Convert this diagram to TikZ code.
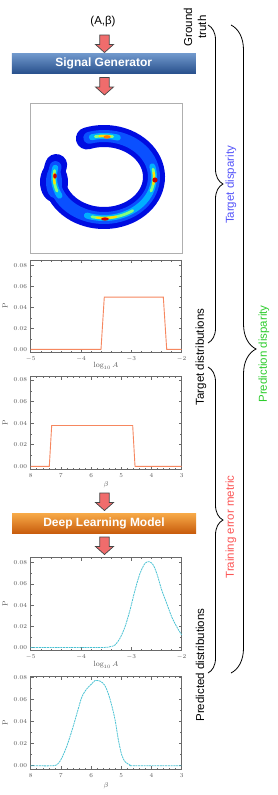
\documentclass[tikz,border=0pt]{standalone}
\usepackage{fontspec}
\newfontfamily\lsans{Liberation Sans}
\usetikzlibrary{decorations.pathreplacing}

\definecolor{arrowfill}{RGB}{240,108,108}
\definecolor{arrowline}{RGB}{70,70,70}
\definecolor{sgtop}{RGB}{112,152,204}
\definecolor{sgbot}{RGB}{40,80,140}
\definecolor{dltop}{RGB}{247,170,72}
\definecolor{dlbot}{RGB}{200,92,12}
\definecolor{tdblue}{RGB}{85,85,250}
\definecolor{pdgreen}{RGB}{45,205,45}
\definecolor{tered}{RGB}{252,85,85}
\definecolor{orangeline}{RGB}{246,135,95}
\definecolor{cyanline}{RGB}{75,195,212}
\definecolor{framegray}{RGB}{105,105,105}
\definecolor{ticklab}{RGB}{85,85,85}
\definecolor{imgframe}{RGB}{175,175,175}
\definecolor{jetA}{RGB}{0,12,225}
\definecolor{jetB}{RGB}{10,80,255}
\definecolor{jetC}{RGB}{0,175,255}
\definecolor{jetD}{RGB}{130,255,125}
\definecolor{jetE}{RGB}{255,225,0}
\definecolor{jetF}{RGB}{255,120,0}
\definecolor{jetG}{RGB}{205,0,0}

\tikzset{
  barrowstyle/.style={draw=arrowline, fill=arrowfill, line width=0.7pt, line join=miter},
  pics/barrow/.style={code={\draw[barrowstyle] (-4.7,0) -- (4.7,0) -- (4.7,9.5) -- (9,9.5) -- (0,17.5) -- (-9,9.5) -- (-4.7,9.5) -- cycle;}},
  barnode/.style={minimum width=184pt, minimum height=20pt, inner sep=0pt, text=white, font=\lsans\bfseries\fontsize{12}{14}\selectfont},
  sidelabel/.style={rotate=90, font=\lsans\fontsize{11.5}{14}\selectfont, align=center, inner sep=0pt},
  bracestyle/.style={decorate, line width=0.8pt},
  frame/.style={draw=framegray, line width=0.6pt},
  tickmark/.style={draw=framegray, line width=0.5pt},
  ticklabel/.style={font=\fontsize{6}{7}\selectfont, text=ticklab, inner sep=1pt},
  axlabel/.style={font=\fontsize{7.5}{9}\selectfont, text=ticklab},
  truthline/.style={draw=orangeline, line width=0.9pt},
  predline/.style={draw=cyanline, line width=0.8pt, dash pattern=on 2pt off 0.7pt},
}

\newcommand\plotaxes[5]{%
  \draw[frame] (0,#2) rectangle (#1,#3);
  \foreach \v/\l in {0/0.00,0.02/0.02,0.04/0.04,0.06/0.06,0.08/0.08} {
    \draw[tickmark] (0,\v) -- ++(3pt,0);
    \draw[tickmark] (#1,\v) -- ++(-3pt,0);
    \node[ticklabel, anchor=east] at ([xshift=-2.5pt]0,\v) {$\l$};
  }
  \foreach \v in {0.01,0.03,0.05,0.07} {
    \draw[tickmark] (0,\v) -- ++(1.6pt,0);
    \draw[tickmark] (#1,\v) -- ++(-1.6pt,0);
  }
  \foreach \u/\l in {#4} {
    \draw[tickmark] (\u,#2) -- ++(0,3pt);
    \draw[tickmark] (\u,#3) -- ++(0,-3pt);
    \node[ticklabel, anchor=north] at ([yshift=-3pt]\u,#2) {$\l$};
  }
  \foreach \k in {1,...,#5} {
    \draw[tickmark] ({\k*0.2},#2) -- ++(0,1.6pt);
    \draw[tickmark] ({\k*0.2},#3) -- ++(0,-1.6pt);
  }
}

\def\rcx{104}
\def\rcy{177}
\def\rrx{50}
\def\rry{41}
\newcommand\ringarc[3]{\draw[#1] plot[domain=#2:#3, samples=60, smooth, variable=\t] ({\rcx+\rrx*cos(\t)},{\rcy-\rry*sin(\t)});}

\begin{document}
\begin{tikzpicture}[x=1pt,y=-1pt]
\useasboundingbox[fill=white] (0,0) rectangle (278,795);

% ---- top flow ----
\node[font=\lsans\fontsize{11.5}{14}\selectfont] (ab) at (103,22) {(A,β)};
\pic at (104.5,35) {barrow};
\node[barnode, top color=sgtop, bottom color=sgbot] (sg) at (103.75,63.5) {Signal Generator};
\pic at (104.5,77.5) {barrow};

% ---- heatmap image ----
\node[draw=imgframe, line width=0.7pt, minimum width=152pt, minimum height=150pt, inner sep=0pt] (img) at (106,178) {};
\ringarc{line width=22pt, jetA, line cap=round}{-197}{110}
\fill[jetA] (54,182) ellipse [x radius=14, y radius=20];
\ringarc{line width=12pt, jetB, line cap=round}{-194}{107}
\fill[jetB] (54,182) ellipse [x radius=8, y radius=16];
\ringarc{line width=6pt, jetC, line cap=round}{-193}{-153}
\ringarc{line width=6pt, jetC, line cap=round}{74}{104}
\ringarc{line width=6pt, jetC, line cap=round}{-110}{15}
\ringarc{line width=2.8pt, jetD, line cap=round}{-189}{-160}
\ringarc{line width=2.8pt, jetD, line cap=round}{80}{100}
\ringarc{line width=2.8pt, jetD, line cap=round}{-104}{-55}
\ringarc{line width=2.8pt, jetD, line cap=round}{-20}{11}
\ringarc{line width=2.2pt, jetE, line cap=round}{-185}{-171}
\ringarc{line width=2.2pt, jetE, line cap=round}{83}{95}
\ringarc{line width=2.2pt, jetE, line cap=round}{-98}{-76}
\ringarc{line width=2.2pt, jetE, line cap=round}{-10}{6}
\fill[jetF] (107,137) ellipse [x radius=3.5, y radius=1.8];
\fill[jetG] (55,176) ellipse [x radius=1.8, y radius=2.6];
\fill[jetG] (155,180) ellipse [x radius=2.6, y radius=2.6];
\fill[jetG] (105,219) ellipse [x radius=3.8, y radius=1.6];

% ---- plot 1: target log10 A ----
\begin{scope}[shift={(30.7pt,-349.3pt)}, x=50.33pt, y=1045pt]
  \plotaxes{3}{-0.0033}{0.0855}{0/-5,1/-4,2/-3,3/-2}{14}
  \draw[truthline] (0,0) -- (1.397,0) -- (1.462,0.05) -- (2.635,0.05) -- (2.702,0) -- (3,0);
\end{scope}
\node[axlabel, rotate=90] (p1y) at (5,306) {P};
\node[axlabel] (p1x) at (106,366) {$\log_{10}A$};

% ---- plot 2: target beta ----
\begin{scope}[shift={(30.7pt,-466.3pt)}, x=30.2pt, y=1079pt]
  \plotaxes{5}{-0.003}{0.083}{0/8,1/7,2/6,3/5,4/4,5/3}{24}
  \draw[truthline] (0,0) -- (0.616,0) -- (0.695,0.0378) -- (3.377,0.0378) -- (3.454,0) -- (5,0);
\end{scope}
\node[axlabel, rotate=90] (p2y) at (5,423) {P};
\node[axlabel] (p2x) at (106,484.5) {$\beta$};

% ---- model ----
\pic at (104.5,493) {barrow};
\node[barnode, top color=dltop, bottom color=dlbot] (dl) at (104,523.3) {Deep Learning Model};
\pic at (104.5,537) {barrow};

% ---- plot 3: predicted log10 A ----
\begin{scope}[shift={(30.7pt,-647.5pt)}, x=50.33pt, y=1060pt]
  \plotaxes{3}{-0.0027}{0.0847}{0/-5,1/-4,2/-3,3/-2}{14}
  \draw[predline] plot[smooth, tension=0.5] coordinates {(0,0) (1.377,0) (1.576,0.0008) (1.675,0.0024) (1.774,0.0087) (1.874,0.0196) (1.973,0.0353) (2.073,0.0542) (2.172,0.0699) (2.271,0.0794) (2.356,0.0809) (2.436,0.0778) (2.515,0.0684) (2.603,0.0542) (2.702,0.0417) (2.801,0.0290) (2.901,0.0196) (3,0.0118)};
\end{scope}
\node[axlabel, rotate=90] (p3y) at (5,604) {P};
\node[axlabel] (p3x) at (106,664.5) {$\log_{10}A$};

% ---- plot 4: predicted beta ----
\begin{scope}[shift={(30.7pt,-765.7pt)}, x=30.2pt, y=1100pt]
  \plotaxes{5}{-0.0034}{0.0809}{0/8,1/7,2/6,3/5,4/4,5/3}{24}
  \draw[predline] plot[smooth, tension=0.5] coordinates {(0,0) (0.748,0) (0.914,0.0022) (1.026,0.0068) (1.192,0.0175) (1.358,0.0313) (1.523,0.0467) (1.689,0.0621) (1.854,0.0698) (2.020,0.0744) (2.129,0.0774) (2.295,0.0769) (2.460,0.0728) (2.626,0.0606) (2.791,0.0421) (2.901,0.0237) (3.013,0.0099) (3.123,0.0037) (3.289,0.0006) (3.397,0) (5,0)};
\end{scope}
\node[axlabel, rotate=90] (p4y) at (5,723) {P};
\node[axlabel] (p4x) at (106,786) {$\beta$};

% ---- side labels and braces ----
\node[sidelabel] (gt) at (195,27) {Ground\\truth};
\node[sidelabel] (tdist) at (201,357) {Target distributions};
\node[sidelabel] (pdist) at (200,665) {Predicted distributions};
\node[sidelabel, text=tdblue] (td) at (231,185) {Target disparity};
\node[sidelabel, text=pdgreen] (pd) at (264,354) {Prediction disparity};
\node[sidelabel, text=tered] (tem) at (231,527) {Training error metric};

\coordinate (bAs) at (208,25);
\coordinate (bAe) at (208,343);
\coordinate (bBs) at (231,25);
\coordinate (bBe) at (231,673);
\coordinate (bCs) at (208,367);
\coordinate (bCe) at (208,673);
\draw[bracestyle, decoration={brace, amplitude=15pt}] (bAs) -- (bAe);
\draw[bracestyle, decoration={brace, amplitude=25pt}] (bBs) -- (bBe);
\draw[bracestyle, decoration={brace, amplitude=15pt}] (bCs) -- (bCe);
\end{tikzpicture}
\end{document}
